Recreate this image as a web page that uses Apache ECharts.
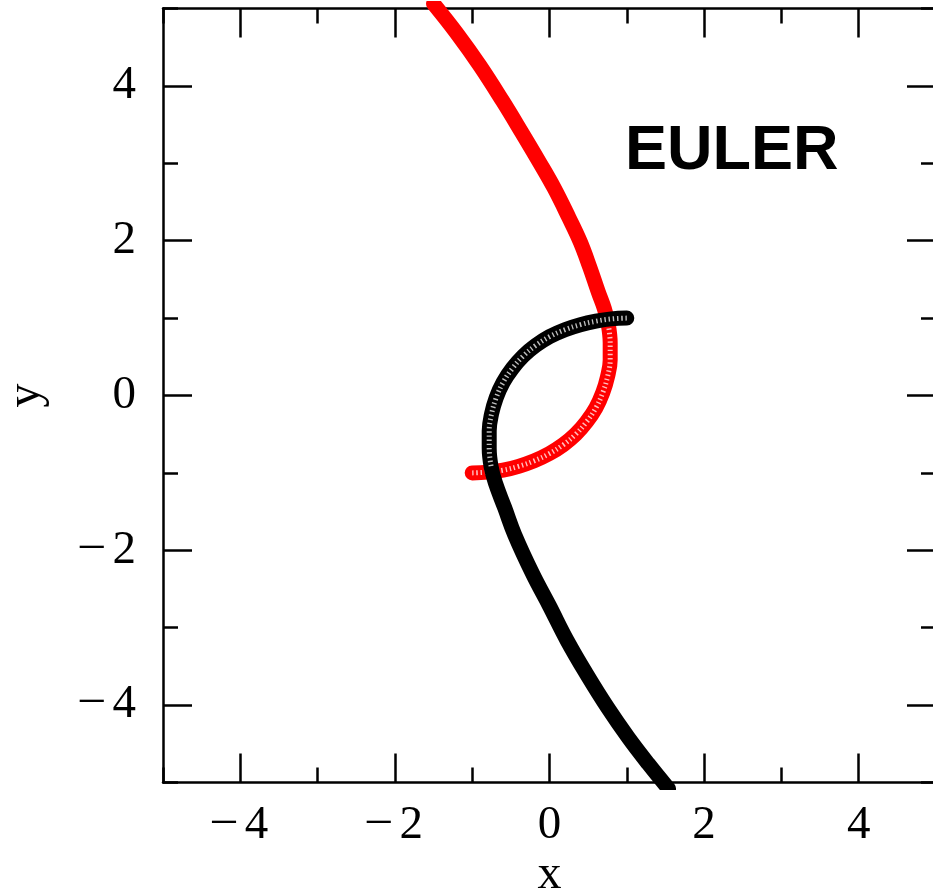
<!DOCTYPE html>
<html>
<head>
<meta charset="utf-8">
<style>
  html, body { margin: 0; padding: 0; background: #fff; }
  #chart { width: 933px; height: 888px; }
</style>
<script src="https://cdn.jsdelivr.net/npm/echarts@6/dist/echarts.min.js"></script>
</head>
<body>
<div id="chart"></div>
<script>
// Trajectory of the first body (red), integrated with the Euler method
var redX = [-1.00, -0.80, -0.60, -0.40, -0.20, 0.00, 0.18, 0.34, 0.48, 0.60, 0.69, 0.75, 0.785, 0.785, 0.76, 0.71, 0.63, 0.52, 0.40, 0.25, 0.06, -0.14, -0.36, -0.61, -0.90, -1.20, -1.50];
var redY = [-1.00, -0.99, -0.965, -0.915, -0.845, -0.75, -0.635, -0.50, -0.34, -0.16, 0.04, 0.24, 0.46, 0.68, 0.92, 1.12, 1.34, 1.66, 1.98, 2.30, 2.68, 3.03, 3.40, 3.81, 4.26, 4.68, 5.06];

// Trajectory of the second body (black)
var blackX = [1.00, 0.80, 0.60, 0.40, 0.20, 0.00, -0.18, -0.34, -0.48, -0.60, -0.69, -0.75, -0.78, -0.78, -0.755, -0.70, -0.58, -0.45, -0.22, 0.00, 0.23, 0.48, 0.75, 1.02, 1.28, 1.54];
var blackY = [1.00, 0.99, 0.96, 0.915, 0.85, 0.76, 0.645, 0.51, 0.35, 0.17, -0.03, -0.24, -0.46, -0.68, -0.92, -1.13, -1.45, -1.80, -2.30, -2.72, -3.17, -3.60, -4.03, -4.42, -4.76, -5.08];

// Number of leading points on each track where the step markers stay visibly separated
var slowSteps = 15;

// Axis range, labelled (major) ticks and minor tick spacing
var axisMin = -5, axisMax = 5, minorStep = 1;
var majorTicks = [-4, -2, 0, 2, 4];
var xTitle = 'x', yTitle = 'y', methodLabel = 'EULER';

function pairs(xs, ys) {
  return xs.map(function (x, i) { return [x, ys[i]]; });
}

var serif = '"Liberation Serif", "DejaVu Serif", serif';
var lineCol = '#000';
var tickW = 2.5;

// Negative values get a long dash raised to the middle of the digits
function fmt(v) {
  if (v < 0) return '{m|\u2013}' + Math.abs(v);
  return String(v);
}

var labelRich = {
  m: { fontFamily: serif, fontSize: 47, lineHeight: 47, color: '#000', padding: [0, 9, 10, 0] }
};

// Axis carrying the frame line, short ticks at every unit and the labels
function minorAxis(pos, showLabel, isX) {
  return {
    type: 'value',
    position: pos,
    min: axisMin,
    max: axisMax,
    interval: minorStep,
    axisLine: { show: true, onZero: false, lineStyle: { color: lineCol, width: tickW } },
    axisTick: { show: true, inside: true, length: 15, lineStyle: { color: lineCol, width: tickW } },
    splitLine: { show: false },
    axisLabel: {
      show: showLabel,
      customValues: majorTicks,
      color: '#000',
      fontFamily: serif,
      fontSize: 47,
      lineHeight: 60,
      margin: isX ? 13 : 27,
      formatter: fmt,
      rich: labelRich
    }
  };
}

// Overlaid axis drawing only the long ticks at the labelled values
function majorAxis(pos) {
  return {
    type: 'value',
    position: pos,
    min: axisMin,
    max: axisMax,
    interval: minorStep,
    axisLine: { show: false, onZero: false },
    axisTick: { show: true, inside: true, length: 29, customValues: majorTicks, lineStyle: { color: lineCol, width: tickW } },
    axisLabel: { show: false },
    splitLine: { show: false }
  };
}

var xBottom = minorAxis('bottom', true, true);
xBottom.name = xTitle;
xBottom.nameLocation = 'middle';
xBottom.nameGap = 69;
xBottom.nameMoveOverlap = false;
xBottom.nameTextStyle = { color: '#000', fontFamily: serif, fontSize: 48 };

var yLeft = minorAxis('left', true, false);
yLeft.name = yTitle;
yLeft.nameLocation = 'middle';
yLeft.nameGap = 113;
yLeft.nameMoveOverlap = false;
yLeft.nameTextStyle = { color: '#000', fontFamily: serif, fontSize: 48 };

function track(name, xs, ys, color) {
  return {
    name: name,
    type: 'line',
    xAxisIndex: 0,
    yAxisIndex: 0,
    data: pairs(xs, ys),
    smooth: 0.4,
    showSymbol: false,
    clip: true,
    z: 2,
    lineStyle: { color: color, width: 15, cap: 'round', join: 'round' }
  };
}

// Gaps between the hollow step markers along the slow part of a track
function stepGaps(name, xs, ys) {
  return {
    name: name,
    type: 'line',
    xAxisIndex: 0,
    yAxisIndex: 0,
    data: pairs(xs.slice(0, slowSteps), ys.slice(0, slowSteps)),
    smooth: 0.4,
    showSymbol: false,
    clip: true,
    silent: true,
    z: 2,
    lineStyle: { color: 'rgba(255,255,255,0.75)', width: 5, type: [1.4, 2.8], cap: 'butt' }
  };
}

var chart = echarts.init(document.getElementById('chart'), null, { renderer: 'canvas' });
chart.setOption({
  animation: false,
  backgroundColor: '#fff',
  grid: { left: 163, top: 8.5, width: 773, height: 774, containLabel: false, outerBoundsMode: 'none' },
  xAxis: [xBottom, minorAxis('top', false, true), majorAxis('bottom'), majorAxis('top')],
  yAxis: [yLeft, minorAxis('right', false, false), majorAxis('left'), majorAxis('right')],
  graphic: [{
    type: 'text',
    left: 625,
    top: 120,
    style: {
      text: methodLabel,
      fill: '#000',
      font: 'bold 63px "Liberation Sans", Arial, sans-serif',
      textVerticalAlign: 'middle'
    }
  }],
  series: [
    track('body 1', redX, redY, '#ff0000'),
    stepGaps('body 1 steps', redX, redY),
    track('body 2', blackX, blackY, '#000000'),
    stepGaps('body 2 steps', blackX, blackY)
  ]
});
</script>
</body>
</html>
